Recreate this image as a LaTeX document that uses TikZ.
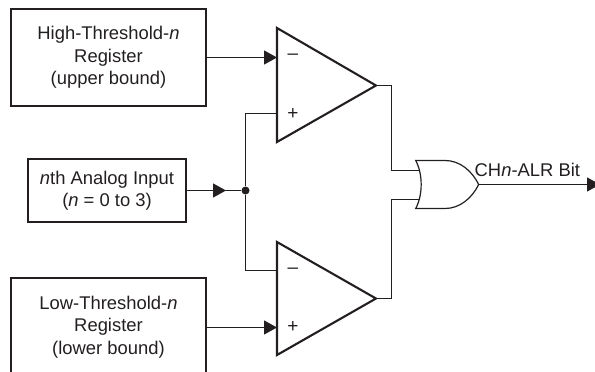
\documentclass[tikz,border=0pt]{standalone}
\usepackage{fontspec}
\setmainfont{Liberation Sans}
\usetikzlibrary{arrows.meta}
\definecolor{ink}{HTML}{231F20}
\tikzset{
  x=1pt,y=-1pt,
  regbox/.style={draw=ink,line width=2.1pt,minimum width=#1,inner sep=0pt,outer sep=0pt},
  label/.style={text=ink,font=\fontsize{18.4}{22.3}\selectfont,align=center,inner sep=0pt},
  wire/.style={draw=ink,line width=1.2pt},
  sig/.style={wire,-{Triangle[length=13pt,width=14pt]}},
  amp/.style={draw=ink,line width=2.1pt,line join=miter},
  gate/.style={draw=ink,line width=1.2pt,line join=miter},
  pin/.style={text=ink,font=\fontsize{19}{20}\selectfont,inner sep=0pt},
  dot/.style={circle,fill=ink,minimum size=8pt,inner sep=0pt}
}
\begin{document}
\begin{tikzpicture}
\useasboundingbox (0,0) rectangle (595,372);
\clip (0,0) rectangle (595,372);
% registers
\node[regbox=195pt,minimum height=97pt] (hi) at (108.5,57.5) {};
\node[label] at (hi.center) {High-Threshold-\textit{n}\\Register\\(upper bound)};
\node[regbox=158.5pt,minimum height=63pt] (in) at (107,190.5) {};
\node[label] at (in.center) {\textit{n}th Analog Input\\(\textit{n} = 0 to 3)};
\node[regbox=195pt,minimum height=112pt] (lo) at (108.5,334) {};
\node[label] at (108.5,327) {Low-Threshold-\textit{n}\\Register\\(lower bound)};
% comparators
\coordinate (ua) at (277,28);
\coordinate (ub) at (277,142);
\coordinate (uo) at (376,85.5);
\coordinate (la) at (277,242);
\coordinate (lb) at (277,355);
\coordinate (lo2) at (376,298.5);
\draw[amp] (ua) -- (uo) -- (ub) -- cycle;
\draw[amp] (la) -- (lo2) -- (lb) -- cycle;
\coordinate (um) at (277,57.5);
\coordinate (up) at (277,113.5);
\coordinate (lm) at (277,270.5);
\coordinate (lp) at (277,327.5);
\node[pin] at (293,57) {–};
\node[pin] at (293,114) {+};
\node[pin] at (293,271) {–};
\node[pin] at (293,327.5) {+};
% junction
\node[dot] (j) at (245.5,190.5) {};
% OR gate
\coordinate (ga) at (415.7,160.5);
\coordinate (gb) at (415.7,208.5);
\coordinate (gt) at (478.7,184.5);
\draw[gate] (ga) -- (445,160.5) .. controls (460,160.5) and (472,171) .. (gt)
  .. controls (472,198) and (460,208.5) .. (445,208.5) -- (gb)
  .. controls (423,195) and (423,174) .. cycle;
\coordinate (gi1) at (418.5,170.5);
\coordinate (gi2) at (418.5,199.5);
\coordinate (out) at (600,184.5);
% connectors
\draw[sig] (hi.east |- um) -- (um);
\draw[wire] (in.east |- j) -- (j);
\coordinate (jtip) at (226,190.5);
\draw[sig] (in.east |- j) -- (jtip);
\draw[wire] (j) |- (up);
\draw[wire] (j) |- (lm);
\draw[sig] (lo.east |- lp) -- (lp);
\draw[wire] (uo) -- ++(15.5,0) |- (gi1);
\draw[wire] (lo2) -- ++(15.5,0) |- (gi2);
\draw[sig] (gt) -- (out);
\node[label,anchor=base west] at (474.5,176) {CH\textit{n}-ALR Bit};
\end{tikzpicture}
\end{document}
